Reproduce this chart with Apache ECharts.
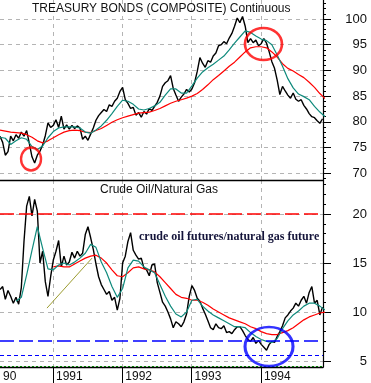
<!DOCTYPE html>
<html><head><meta charset="utf-8">
<script src="https://cdn.jsdelivr.net/npm/echarts@6/dist/echarts.min.js"></script>
<style>html,body{margin:0;padding:0;background:#fff}#c{width:371px;height:383px}</style>
</head><body><div id="c"></div>
<script>
// ---- data ----
const startYear = 1990.235;           // first weekly sample (decimal year)
const sampleStep = 1 / 26;            // two-week samples
const maStep = 2 / 26;                // moving-average samples every four weeks
const xMin = 1990.235, xMax = 1994.896;
const yearTickValues = [1991, 1992, 1993, 1994];
const yearLabelValues = [1990.235, 1991, 1992, 1993, 1994];
const yearLabels = ['90', '1991', '1992', '1993', '1994'];
const bondTicks = [70, 75, 80, 85, 90, 95, 100];
const bondMinorTicks = [69,70,71,72,73,74,75,76,77,78,79,80,81,82,83,84,85,86,87,88,89,90,91,92,93,94,95,96,97,98,99,100,101,102,103];
const ratioTicks = [5, 10, 15, 20];
const ratioMinorTicks = [5,6,7,8,9,10,11,12,13,14,15,16,17,18,19,20,21,22,23];

const bondPrice = [77.2,76.0,73.5,74.2,77.2,76.3,77.5,76.8,78.0,77.2,78.3,75.8,73.2,72.0,73.5,74.3,75.5,77.3,79.8,78.9,
  79.3,80.4,78.9,81.1,78.6,79.4,78.6,79.3,78.7,79.2,78.8,76.6,77.2,76.4,77.6,78.8,80.3,81.2,81.8,82.4,
  82.0,83.3,83.0,84.0,84.6,85.9,86.7,84.3,83.6,82.6,82.8,81.3,81.8,80.9,82.0,81.5,82.6,82.2,83.0,83.8,
  85.0,86.9,87.6,88.0,89.0,86.5,85.2,84.0,84.8,85.4,86.3,85.8,86.4,87.6,89.8,92.5,91.4,90.6,91.9,91.6,
  92.8,93.4,94.8,95.0,95.6,95.2,96.3,97.2,98.6,100.2,99.3,100.5,98.6,95.4,96.2,95.4,95.9,94.8,95.2,96.2,
  95.3,93.6,91.7,90.4,88.1,85.3,86.9,86.0,85.2,84.6,85.6,84.4,84.0,84.3,83.2,82.5,81.6,81.0,80.8,80.2,
  79.7,80.6];
const bondFastMA = [77.0,76.8,75.6,76.3,76.9,76.6,75.2,74.6,75.3,76.9,78.1,78.8,79.0,79.0,79.0,78.8,78.0,77.8,78.4,79.2,
  80.3,81.6,83.0,84.2,84.0,83.4,82.5,82.3,82.6,83.1,83.8,85.2,86.4,86.4,85.6,85.6,87.0,88.5,89.7,90.5,
  91.2,92.0,92.8,94.0,95.3,96.5,97.7,97.4,96.7,96.1,95.8,95.0,93.0,90.8,88.4,86.6,85.4,84.9,84.3,83.0,
  81.9,81.0];
const bondSlowMA = [78.4,78.2,78.0,77.9,77.8,77.5,77.0,76.3,75.9,76.3,76.9,77.5,78.0,78.3,78.4,78.3,78.0,77.9,78.3,78.7,
  79.3,79.9,80.4,80.8,81.1,81.4,81.7,81.8,81.9,82.2,82.6,83.1,83.6,84.0,84.3,84.6,85.0,85.5,86.3,87.2,
  88.2,89.0,89.9,90.8,91.6,92.6,93.6,94.4,94.6,94.6,94.4,93.6,92.6,91.3,90.4,89.9,89.2,88.6,87.7,86.7,
  85.5,84.5];

const oilGasRatio = [12.3,12.6,11.3,12.2,11.6,10.9,11.5,10.8,12.5,17.2,20.8,21.8,19.8,21.5,20.3,15.0,16.2,13.1,11.6,13.6,
  15.3,16.2,17.3,14.6,15.7,14.8,15.1,16.1,15.5,16.2,15.7,16.0,17.9,18.7,17.6,16.4,14.9,13.6,12.8,12.3,
  11.8,12.1,11.2,11.5,10.2,11.4,15.0,15.7,17.2,18.1,16.3,15.8,15.4,15.5,14.5,14.3,13.7,14.8,14.9,13.0,
  12.0,11.0,10.6,10.0,9.3,8.4,9.0,8.8,8.5,9.0,9.8,11.6,12.7,12.2,11.4,11.1,10.4,9.8,9.1,8.4,
  8.2,8.8,8.4,8.3,8.6,7.9,8.0,7.8,8.2,8.5,8.5,8.1,7.6,7.2,7.0,7.4,6.8,7.1,6.7,6.4,
  6.1,6.7,7.0,6.9,7.5,8.0,8.6,9.4,9.7,10.1,10.4,10.9,10.6,11.2,11.6,10.9,12.0,12.6,10.9,11.2,
  9.7,10.5];
const ratioFastMA = [null,null,null,11.1,11.5,13.8,16.3,18.7,16.5,14.4,14.3,14.8,15.0,14.8,15.1,15.5,16.0,16.9,16.6,15.1,
  14.0,12.6,11.5,12.4,14.5,15.3,15.2,14.6,14.3,14.0,12.8,11.6,10.6,9.8,9.5,10.0,11.2,11.3,10.6,10.1,
  9.7,9.4,9.1,8.8,8.5,8.5,8.4,7.9,7.5,7.2,7.0,6.9,7.3,8.3,9.1,9.7,10.1,10.6,10.9,10.9,
  10.6,10.2];
const ratioSlowMA = [null,null,null,null,null,null,null,null,null,null,14.6,14.7,14.6,14.6,14.9,15.2,15.5,15.7,15.8,15.5,
  15.0,14.3,13.7,13.6,14.0,14.5,14.6,14.4,14.3,14.1,13.6,13.0,12.4,11.8,11.5,11.4,11.2,11.2,11.0,10.7,
  10.3,10.0,9.7,9.4,9.2,9.0,8.8,8.5,8.3,8.0,7.8,7.7,7.7,7.9,8.1,8.4,8.8,9.2,9.5,9.7,
  9.9,10.0];

const ratioLevels = [20, 7.1, 5.6, 4.5];           // horizontal reference lines
const trendYears = [1990.913, 1991.563];           // olive trend line
const trendValues = [10.4, 15.5];
const bondCircles = [[1990.683, 72.76], [1994.037, 95.14]];
const ratioCircles = [[1994.117, 6.48]];

// ---- build ----
const SANS = 'Liberation Sans, Arial, sans-serif';
const seq = (arr, step) => arr.map((v, i) => [startYear + i * step, v]);
const gray = '#b4b4b4';

function xAxisCfg(grid, withLabels) {
  return {
    type: 'value', gridIndex: grid, min: xMin, max: xMax,
    axisLine: { show: true, onZero: false, lineStyle: { color: '#000', width: 1.4 } },
    axisTick: { show: withLabels, customValues: yearTickValues, length: 16, inside: false, lineStyle: { color: '#000' } },
    axisLabel: withLabels ? {
      show: true, customValues: yearLabelValues, align: 'left', margin: 4, padding: [0, 0, 0, 3],
      fontFamily: SANS, fontSize: 12, color: '#111',
      formatter: v => { const k = yearLabelValues.findIndex(t => Math.abs(t - v) < 1e-6); return k >= 0 ? yearLabels[k] : ''; }
    } : { show: false },
    splitLine: { show: true, lineStyle: { color: gray, type: [4, 4], width: 1 } }
  };
}
function yAxisCfg(grid, min, max, ticks) {
  return {
    type: 'value', gridIndex: grid, position: 'right', min: min, max: max,
    axisLine: { show: true, lineStyle: { color: '#000', width: 1.2 } },
    axisTick: { show: true, customValues: ticks, length: 8, inside: false, lineStyle: { color: '#000' } },
    axisLabel: { show: true, customValues: ticks, align: 'right', margin: 44, fontFamily: SANS, fontSize: 13, color: '#111' },
    splitLine: { show: true, lineStyle: { color: gray, type: [4, 4], width: 1 } }
  };
}
function minorAxisCfg(grid, min, max, ticks) {
  return {
    type: 'value', gridIndex: grid, position: 'right', min: min, max: max,
    axisLine: { show: false },
    axisTick: { show: true, customValues: ticks, length: 3, inside: false, lineStyle: { color: '#000' } },
    axisLabel: { show: false }, splitLine: { show: false }
  };
}
const line = (name, xi, yi, data, color, width, z) => ({
  name, type: 'line', xAxisIndex: xi, yAxisIndex: yi, data, showSymbol: false, symbol: 'none',
  lineStyle: { color, width }, itemStyle: { color }, z, clip: true, animation: false, connectNulls: false
});

const circleSizes = [[20, 23], [37, 32]];
const option = {
  animation: false,
  backgroundColor: '#fff',
  title: [
    { text: 'TREASURY BONDS (COMPOSITE) Continuous', left: 32, top: 3, padding: 0,
      textStyle: { fontFamily: SANS, fontSize: 12, fontWeight: 'normal', color: '#111' } },
    { text: 'Crude Oil/Natural Gas', left: 100, top: 184, padding: 0,
      textStyle: { fontFamily: SANS, fontSize: 12, fontWeight: 'normal', color: '#111' } },
    { text: 'crude oil futures/natural gas future', left: 139, top: 231, padding: 0,
      textStyle: { fontFamily: 'Liberation Serif, Times New Roman, serif', fontSize: 12, fontWeight: 'bold', color: '#14143a' } }
  ],
  grid: [
    { left: 0, top: 0, width: 323, height: 180, containLabel: false },
    { left: 0, top: 180, width: 323, height: 187, containLabel: false }
  ],
  xAxis: [xAxisCfg(0, false), xAxisCfg(1, true)],
  yAxis: [
    yAxisCfg(0, 68.68, 103.7, bondTicks),
    yAxisCfg(1, 4.39, 23.47, ratioTicks),
    minorAxisCfg(0, 68.68, 103.7, bondMinorTicks),
    minorAxisCfg(1, 4.39, 23.47, ratioMinorTicks)
  ],
  series: [
    line('bond', 0, 0, seq(bondPrice, sampleStep), '#000', 1.4, 2),
    line('bondSlow', 0, 0, seq(bondSlowMA, maStep), '#ff0000', 1.2, 3),
    line('bondFast', 0, 0, seq(bondFastMA, maStep), '#0f8a7c', 1.2, 4),
    line('ratio', 1, 1, seq(oilGasRatio, sampleStep), '#000', 1.4, 2),
    Object.assign(line('ratioSlow', 1, 1, seq(ratioSlowMA, maStep), '#ff0000', 1.2, 3), {
      markLine: {
        silent: true, symbol: ['none', 'none'], label: { show: false }, animation: false,
        data: [
          { yAxis: ratioLevels[0], lineStyle: { color: '#ff0000', type: [14, 5], width: 1.5 } },
          { yAxis: ratioLevels[1], lineStyle: { color: '#0000ff', type: [14, 5], width: 1.5 } },
          { yAxis: ratioLevels[2], lineStyle: { color: '#0000ff', type: [4, 3], width: 1.2 } },
          { yAxis: ratioLevels[3], lineStyle: { color: '#008000', type: [2, 2], width: 1.2 } }
        ]
      }
    }),
    line('ratioFast', 1, 1, seq(ratioFastMA, maStep), '#0f8a7c', 1.2, 4),
    line('trend', 1, 1, trendYears.map((x, i) => [x, trendValues[i]]), '#9c9c30', 1, 5),
    { type: 'scatter', xAxisIndex: 0, yAxisIndex: 0, z: 6, symbol: 'circle',
      data: bondCircles.map((p, i) => ({ value: p, symbolSize: circleSizes[i] })),
      itemStyle: { color: 'rgba(0,0,0,0)', borderColor: '#ff0000', borderWidth: 2.5 }, silent: true },
    { type: 'scatter', xAxisIndex: 1, yAxisIndex: 1, z: 6, symbol: 'circle',
      data: ratioCircles.map(p => ({ value: p, symbolSize: [48, 39] })),
      itemStyle: { color: 'rgba(0,0,0,0)', borderColor: '#0000ff', borderWidth: 2.8 }, silent: true }
  ]
};
const chart = echarts.init(document.getElementById('c'), null, { renderer: 'canvas' });
chart.setOption(option);
</script></body></html>
